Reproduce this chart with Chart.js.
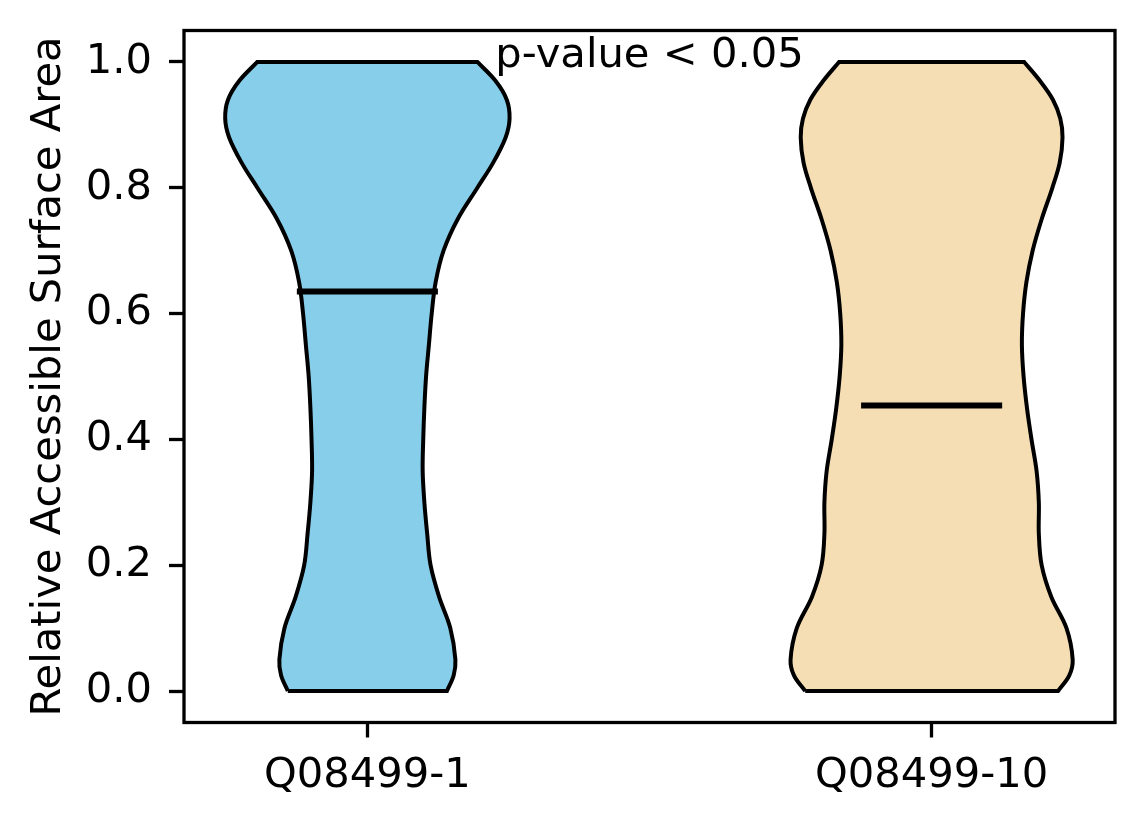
<!DOCTYPE html>
<html lang="en">
<head>
    <meta charset="UTF-8">
    <title>Relative Accessible Surface Area</title>
    <script src="https://cdn.jsdelivr.net/npm/chart.js"></script>
    <style>
        body {
            margin: 0;
            background: #fff;
        }
        .chart-wrapper {
            position: relative;
            width: 1144px;
            height: 824px;
        }
    </style>
</head>
<body>
    <div class="chart-wrapper">
        <canvas id="violinChart"></canvas>
    </div>

    <script>
        // groups and their colours
        const groups = ['Q08499-1', 'Q08499-10'];
        const groupColors = ['#87CEEB', '#F5DEB3'];
        const medians = [0.635, 0.454];

        // density outline: half-width of each violin at these RSA levels
        const levels = [0, 0.025, 0.05, 0.10, 0.15, 0.20, 0.25, 0.30, 0.35, 0.40, 0.45, 0.50,
                        0.55, 0.60, 0.65, 0.70, 0.75, 0.80, 0.84, 0.88, 0.91, 0.94, 0.97, 1.00];
        const halfWidthQ1 = [0.141, 0.153, 0.156, 0.147, 0.127, 0.112, 0.106, 0.101, 0.098, 0.099, 0.101, 0.104,
                             0.109, 0.114, 0.121, 0.135, 0.160, 0.195, 0.223, 0.245, 0.252, 0.247, 0.227, 0.195];
        const halfWidthQ10 = [0.224, 0.244, 0.250, 0.239, 0.212, 0.195, 0.190, 0.190, 0.186, 0.177, 0.169, 0.163,
                              0.160, 0.162, 0.168, 0.179, 0.195, 0.214, 0.227, 0.232, 0.228, 0.215, 0.192, 0.164];

        const yTicks = [0, 0.2, 0.4, 0.6, 0.8, 1.0];
        const pValueText = 'p-value < 0.05';
        const pValueY = 0.992;

        const font = { family: 'DejaVu Sans', size: 41.67 };

        // closed outline: left side bottom->top, right side top->bottom
        // corner points are doubled so the flat ends stay sharp
        function violinOutline(pos, widths) {
            const left = levels.map((y, i) => ({ x: pos - widths[i], y: y }));
            const right = levels.map((y, i) => ({ x: pos + widths[i], y: y })).reverse();
            const first = left[0];
            const top = left[left.length - 1];
            return [first, ...left, top, right[0], ...right, right[right.length - 1], first];
        }

        const violinData = [halfWidthQ1, halfWidthQ10];

        const violinSets = groups.map((g, i) => ({
            label: g,
            data: violinOutline(i, violinData[i]),
            showLine: true,
            fill: 'shape',
            backgroundColor: groupColors[i],
            borderColor: '#000',
            borderWidth: 4,
            tension: 0.35,
            pointRadius: 0,
            order: 2
        }));

        const medianSets = groups.map((g, i) => ({
            label: g + ' median',
            data: [{ x: i - 0.125, y: medians[i] }, { x: i + 0.125, y: medians[i] }],
            showLine: true,
            fill: false,
            borderColor: '#000',
            borderWidth: 6,
            borderCapStyle: 'butt',
            pointRadius: 0,
            order: 1
        }));

        const framePlugin = {
            id: 'frame',
            afterDraw(chart) {
                const { ctx, chartArea: a } = chart;
                ctx.save();
                ctx.strokeStyle = '#000';
                ctx.lineWidth = 3.3;
                ctx.strokeRect(a.left, a.top, a.right - a.left, a.bottom - a.top);
                ctx.restore();
            }
        };

        const pValuePlugin = {
            id: 'pValue',
            afterDatasetsDraw(chart) {
                const { ctx, scales } = chart;
                ctx.save();
                ctx.font = font.size + 'px "' + font.family + '"';
                ctx.fillStyle = '#000';
                ctx.textAlign = 'center';
                ctx.textBaseline = 'alphabetic';
                ctx.fillText(pValueText, scales.x.getPixelForValue(0.5), scales.y.getPixelForValue(pValueY));
                ctx.restore();
            }
        };

        new Chart(document.getElementById('violinChart'), {
            type: 'scatter',
            data: { datasets: [...violinSets, ...medianSets] },
            options: {
                responsive: true,
                maintainAspectRatio: false,
                animation: false,
                devicePixelRatio: 1,
                layout: { padding: { left: 0, top: 30.5, right: 29, bottom: 0 } },
                plugins: {
                    legend: { display: false },
                    tooltip: { enabled: false }
                },
                scales: {
                    x: {
                        type: 'linear',
                        min: -0.325,
                        max: 1.325,
                        afterBuildTicks: s => { s.ticks = groups.map((g, i) => ({ value: i })); },
                        afterFit: s => {
                            s.height = 101.5;
                            s.paddingLeft = 0;
                            s.paddingRight = 0;
                        },
                        ticks: {
                            callback: v => groups[v],
                            font: font,
                            color: '#000',
                            padding: 14,
                            autoSkip: false,
                            maxRotation: 0
                        },
                        grid: {
                            drawOnChartArea: false,
                            drawTicks: true,
                            tickLength: 15,
                            tickWidth: 3.3,
                            tickColor: '#000'
                        },
                        border: { display: false }
                    },
                    y: {
                        min: -0.05,
                        max: 1.05,
                        afterBuildTicks: s => { s.ticks = yTicks.map(v => ({ value: v })); },
                        afterFit: s => {
                            s.width = 184;
                            s.paddingTop = 0;
                            s.paddingBottom = 0;
                        },
                        ticks: {
                            callback: v => v.toFixed(1),
                            font: font,
                            color: '#000',
                            padding: 17,
                            autoSkip: false
                        },
                        grid: {
                            drawOnChartArea: false,
                            drawTicks: true,
                            tickLength: 15,
                            tickWidth: 3.3,
                            tickColor: '#000'
                        },
                        border: { display: false },
                        title: {
                            display: true,
                            text: 'Relative Accessible Surface Area',
                            font: font,
                            color: '#000',
                            padding: { top: 24, bottom: 0 }
                        }
                    }
                }
            },
            plugins: [framePlugin, pValuePlugin]
        });
    </script>
</body>
</html>
